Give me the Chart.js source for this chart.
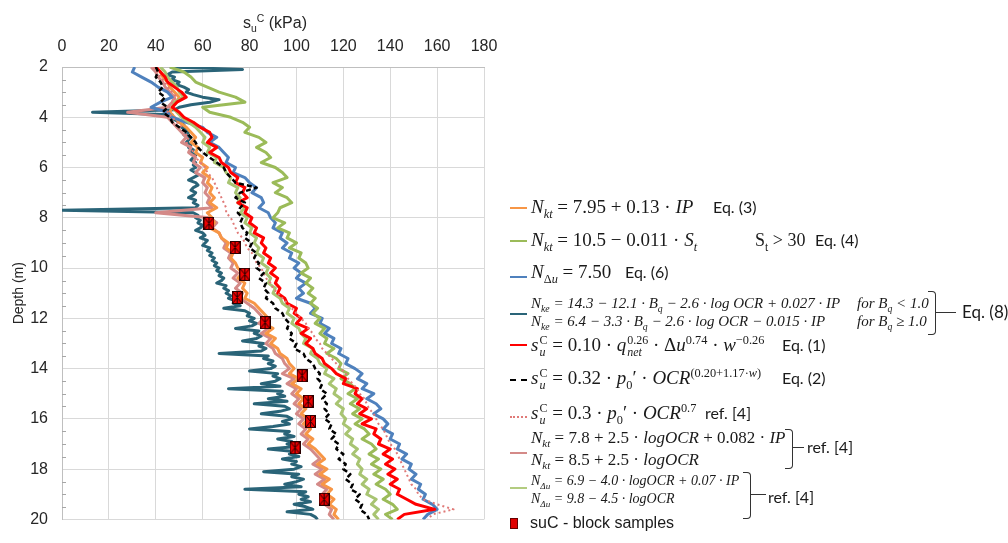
<!DOCTYPE html>
<html><head><meta charset="utf-8">
<script src="https://cdn.jsdelivr.net/npm/chart.js@4.4.1/dist/chart.umd.min.js"></script>
<style>
html,body{margin:0;padding:0;background:#fff;}
#wrap{position:relative;width:1008px;height:543px;overflow:hidden;background:#fff;}
#c{position:absolute;left:0;top:0;}
.t{position:absolute;white-space:nowrap;color:#1a1a1a;}
.m{font-family:'Liberation Serif','DejaVu Serif',serif;font-size:19px;line-height:22px;}
.s{font-family:'Liberation Serif','DejaVu Serif',serif;font-style:italic;font-size:14px;line-height:16px;}
.e{font-family:Lato,'Open Sans',sans-serif;font-size:16px;line-height:20px;}
sub,sup{font-size:0.65em;line-height:0;}
.ss{display:inline-block;vertical-align:-5px;line-height:12px;font-size:12px;margin-left:1px;}
.ss>span{display:block;}
.sw{position:absolute;height:0;width:17px;left:510px;}
.br{position:absolute;border:1.5px solid #333;border-left:none;border-radius:0 4px 4px 0;}
.dash{position:absolute;height:0;border-top:1.5px solid #333;}
</style>
</head><body>
<div id="wrap">
<canvas id="c" width="514" height="543"></canvas>
<div class="t" style="left:243px;top:13px;font-family:'Liberation Sans',Arial,sans-serif;font-size:16px;line-height:20px;color:#262626">s<sub>u</sub><sup>C</sup> (kPa)</div>

<!-- legend -->
<div class="sw" style="top:207px;border-top:2px solid #F79646"></div>
<div class="t m" style="left:531px;top:196px"><i>N</i><sub><i>kt</i></sub> = 7.95 + 0.13 · <i>IP</i></div>
<div class="t e" style="left:713px;top:197px">Eq. (3)</div>

<div class="sw" style="top:240px;border-top:2px solid #9BBB59"></div>
<div class="t m" style="left:531px;top:229px"><i>N</i><sub><i>kt</i></sub> = 10.5 − 0.011 · <i>S</i><sub><i>t</i></sub></div>
<div class="t m" style="left:755px;top:229px;font-size:18px">S<sub>t</sub> &gt; 30</div>
<div class="t e" style="left:815px;top:230px">Eq. (4)</div>

<div class="sw" style="top:276px;border-top:2px solid #4F81BD"></div>
<div class="t m" style="left:531px;top:261px"><i>N</i><sub>Δ<i>u</i></sub> = 7.50</div>
<div class="t e" style="left:625px;top:262px">Eq. (6)</div>

<div class="sw" style="top:313px;border-top:2px solid #2A6478"></div>
<div class="t s" style="left:531px;top:295px;font-size:15px">N<sub>ke</sub> = 14.3 − 12.1 · B<sub>q</sub> − 2.6 · log OCR + 0.027 · IP</div>
<div class="t s" style="left:857px;top:295px;font-size:15px">for B<sub>q</sub> &lt; 1.0</div>
<div class="t s" style="left:531px;top:313px;font-size:15px">N<sub>ke</sub> = 6.4 − 3.3 · B<sub>q</sub> − 2.6 · log OCR − 0.015 · IP</div>
<div class="t s" style="left:857px;top:313px;font-size:15px">for B<sub>q</sub> ≥ 1.0</div>
<div class="br" style="left:928px;top:291px;width:7px;height:42px"></div>
<div class="dash" style="left:936px;top:312px;width:20px"></div>
<div class="t e" style="left:962px;top:302px;font-size:17px">Eq. (8)</div>

<div class="sw" style="top:344px;border-top:2px solid #FF0000"></div>
<div class="t m" style="left:531px;top:334px"><i>s</i><span class="ss"><span>C</span><span><i>u</i></span></span> = 0.10 · <i>q</i><span class="ss"><span>0.26</span><span><i>net</i></span></span> · Δ<i>u</i><sup>0.74</sup> · <i>w</i><sup>−0.26</sup></div>
<div class="t e" style="left:782px;top:335px">Eq. (1)</div>

<div class="sw" style="top:379px;border-top:2px dashed #000"></div>
<div class="t m" style="left:531px;top:367px"><i>s</i><span class="ss"><span>C</span><span><i>u</i></span></span> = 0.32 · <i>p</i><sub>0</sub>′ · <i>OCR</i><sup>(0.20+1.17·<i>w</i>)</sup></div>
<div class="t e" style="left:782px;top:368px">Eq. (2)</div>

<div class="sw" style="top:416px;border-top:2px dotted #E07A78"></div>
<div class="t m" style="left:531px;top:402px"><i>s</i><span class="ss"><span>C</span><span><i>u</i></span></span> = 0.3 · <i>p</i><sub>0</sub>′ · <i>OCR</i><sup>0.7</sup></div>
<div class="t e" style="left:705px;top:403px">ref. [4]</div>

<div class="sw" style="top:452px;border-top:2px solid #D48A88"></div>
<div class="t m" style="left:531px;top:427px;font-size:17px"><i>N</i><sub><i>kt</i></sub> = 7.8 + 2.5 · <i>logOCR</i> + 0.082 · <i>IP</i></div>
<div class="t m" style="left:531px;top:449px;font-size:17px"><i>N</i><sub><i>kt</i></sub> = 8.5 + 2.5 · <i>logOCR</i></div>
<div class="br" style="left:785px;top:429px;width:7px;height:38px"></div>
<div class="dash" style="left:793px;top:447px;width:11px"></div>
<div class="t e" style="left:807px;top:437px">ref. [4]</div>

<div class="sw" style="top:487px;border-top:2px solid #B3CC80"></div>
<div class="t s" style="left:531px;top:473px">N<sub>Δu</sub> = 6.9 − 4.0 · logOCR + 0.07 · IP</div>
<div class="t s" style="left:531px;top:491px">N<sub>Δu</sub> = 9.8 − 4.5 · logOCR</div>
<div class="br" style="left:743px;top:472px;width:7px;height:45px"></div>
<div class="dash" style="left:751px;top:494px;width:15px"></div>
<div class="t e" style="left:768px;top:487px">ref. [4]</div>

<div style="position:absolute;left:510px;top:518px;width:6px;height:9px;background:#E00000;border:1px solid #600"></div>
<div class="t" style="left:530px;top:513px;font-family:'Liberation Sans',Arial,sans-serif;font-size:16px;line-height:20px">suC - block samples</div>
</div>

<script>
// ---------- data ----------
// CPT depth grids (m)
const depthCPT = [];      // 0.2 m grid, 2.0 .. 20.0
for (let i = 0; i <= 90; i++) depthCPT.push(Math.round((2 + i * 0.2) * 10) / 10);
const depthCPTfine = [];  // 0.1 m grid, 2.0 .. 20.0
for (let i = 0; i <= 180; i++) depthCPTfine.push(Math.round((2 + i * 0.1) * 10) / 10);

// Nkt = 7.95 + 0.13 IP  Eq.(3)
const suNktIP = [40,42,43,45,46,48,50,49,47,46,
 48,50,53,55,57,55,58,57,60,59,
 62,60,63,62,64,63,65,63,66,62,
 64,65,63,67,68,71,70,73,72,74,
 75,77,75,78,77,79,78,82,84,86,
 88,86,90,87,91,89,92,93,96,97,
 99,97,101,98,102,100,103,101,104,102,
 105,103,106,104,107,105,108,110,112,109,
 113,110,114,111,115,113,116,114,117,116,
 118];
// Nkt = 10.5 - 0.011 St  Eq.(4)
const suNktSt = [46,52,55,57,62,67,74,78,60,63,
 72,77,80,78,84,87,83,87,89,85,
 91,94,96,90,94,91,96,98,93,92,
 90,95,92,97,96,100,97,102,101,104,
 105,102,106,104,107,105,108,106,109,107,
 110,108,112,110,113,112,116,113,117,119,
 118,122,119,123,125,122,126,123,127,124,
 128,125,129,131,128,132,134,131,135,132,
 136,133,137,134,138,140,137,141,143,138,
 141];
// NΔu = 7.50  Eq.(6)
const suNdu = [31,30,34,38,41,45,47,42,38,45,
 47,53,60,62,66,63,67,69,71,70,
 74,73,78,80,83,81,85,86,84,88,
 89,91,90,94,93,96,94,98,97,101,
 99,102,100,104,101,103,100,106,108,106,
 111,110,114,112,116,115,119,118,122,121,
 125,128,126,130,128,133,130,134,136,133,
 137,139,137,141,140,144,143,147,145,149,
 148,151,149,153,152,155,154,158,160,156,
 154];
// Nke  Eq.(8)  (0.1 m grid)
const suNke = [46,77,47,45,48,47,50,49,52,54,
 53,56,60,67,63,55,50,48,13,47,
 46,48,50,52,51,53,54,52,55,54,
 53,55,54,56,55,57,56,55,57,56,
 57,55,57,58,56,54,57,58,56,55,
 57,56,54,57,56,58,57,0,56,58,
 57,59,58,60,59,57,60,61,59,62,
 61,60,63,62,64,63,65,64,66,65,
 67,66,68,67,69,68,66,70,69,71,
 70,72,71,74,73,76,69,78,80,79,
 82,80,83,81,74,84,82,85,83,77,
 86,84,87,85,67,88,86,90,88,91,
 89,80,92,90,93,91,85,93,71,94,
 92,95,88,96,82,95,97,93,85,96,
 98,94,97,90,80,97,95,99,92,98,
 96,100,88,99,97,101,94,100,98,102,
 99,86,101,98,103,100,95,102,78,104,
 101,105,102,106,99,104,107,96,106,108,
 109];
// suC = 0.10 qnet^0.26 Δu^0.74 w^-0.26  Eq.(1)
const suEq1 = [40,42,44,45,48,51,53,49,47,50,
 52,56,59,63,64,62,66,63,67,68,
 71,72,75,74,78,77,79,75,79,78,
 81,80,83,82,86,85,87,86,89,88,
 91,89,92,91,93,92,95,96,100,99,
 102,100,105,102,106,104,107,108,111,112,
 115,117,121,120,126,125,128,126,130,127,
 132,128,134,133,136,135,140,137,141,138,
 142,139,143,140,144,143,147,151,159,146,
 143];
// suC = 0.32 p0' OCR^(0.20+1.17w)  Eq.(2)
const suEq2 = [40,41,40,42,43,41,44,42,45,43,
 46,47,50,53,55,57,58,60,63,66,
 69,70,72,74,83,76,74,78,76,75,
 77,76,77,79,78,81,80,83,82,84,
 83,86,84,87,86,88,87,90,91,94,
 95,97,96,98,97,100,99,103,104,107,
 108,110,109,111,110,113,111,113,112,114,
 112,115,114,117,115,118,117,120,118,121,
 120,123,121,124,123,127,125,128,127,130,
 131];
// suC = 0.3 p0' OCR^0.7  ref.[4]
const suRef4 = [39,41,42,44,45,47,49,47,46,45,
 47,49,51,52,54,53,55,56,57,59,
 61,62,64,65,66,67,68,69,70,70,
 72,73,74,75,77,78,79,81,82,83,
 85,86,87,89,90,92,94,96,98,100,
 102,104,105,107,108,110,111,113,115,117,
 119,121,122,124,126,127,129,130,131,133,
 134,135,137,138,139,140,142,143,144,145,
 146,147,148,149,151,152,154,160,167,158,
 156];
// Nkt = f(logOCR, IP)  ref.[4]
const suNktOCR = [38,40,41,43,44,46,48,47,45,28,
 45,47,49,51,53,51,55,54,57,56,
 59,57,61,60,62,61,63,62,64,40,
 63,66,64,67,68,70,69,72,71,73,
 72,75,73,76,74,77,76,79,82,84,
 86,84,88,85,89,87,90,91,94,95,
 97,94,99,96,100,98,101,99,102,100,
 103,101,104,102,105,103,106,108,110,107,
 111,108,112,109,113,111,114,112,115,114,
 116];
// NΔu = f(logOCR, IP)  ref.[4]
const suNduOCR = [42,44,45,47,49,50,52,48,47,49,
 51,54,57,59,61,60,63,62,66,65,
 69,70,72,71,75,74,76,75,78,76,
 79,78,81,80,83,82,84,83,86,85,
 88,87,89,88,91,90,93,94,97,96,
 99,98,101,102,104,103,107,106,109,110,
 113,112,116,114,117,116,119,117,120,119,
 121,120,123,121,124,123,126,124,127,126,
 128,127,130,128,131,130,134,132,135,133,
 135];
// block samples
const blockSu    = [62.7, 73.8, 78.0, 74.7, 86.6, 102.4, 105.0, 106.0, 99.4, 111.8];
const blockDepth = [8.22, 9.18, 10.25, 11.17, 12.17, 14.28, 15.3, 16.1, 17.15, 19.2];

const xTicksMax = 180, xStep = 20, depthMin = 2, depthMax = 20, depthStep = 2, depthMinor = 0.5;

// ---------- chart ----------
const pts = (vals, depths) => vals.map((v, i) => ({x: v, y: depths[i]}));

function blockMarker(w, h) {
  const c = document.createElement('canvas'); c.width = w; c.height = h;
  const g = c.getContext('2d');
  g.fillStyle = '#EE0000'; g.fillRect(0, 0, w, h);
  g.strokeStyle = '#2a0000'; g.lineWidth = 1;
  g.strokeRect(0.5, 0.5, w - 1, h - 1);
  g.beginPath();
  g.moveTo(1, 1); g.lineTo(w - 1, h - 1);
  g.moveTo(w - 1, 1); g.lineTo(1, h - 1);
  g.moveTo(w / 2, 1); g.lineTo(w / 2, h - 1);
  g.stroke();
  return c;
}

const line = (label, vals, depths, color, order, extra) => Object.assign({
  label, data: pts(vals, depths), showLine: true, borderColor: color, backgroundColor: color,
  borderWidth: 3, pointRadius: 0, borderJoinStyle: 'round', order
}, extra || {});

const minorTicks = {
  id: 'minorTicks',
  beforeDatasetsDraw(chart) {
    const y = chart.scales.y, g = chart.ctx, left = chart.chartArea.left;
    g.save(); g.strokeStyle = '#A6A6A6'; g.lineWidth = 1;
    for (let v = depthMin + depthMinor; v < depthMax; v += depthMinor) {
      if (Math.abs(v / depthStep - Math.round(v / depthStep)) < 1e-6) continue;
      const py = Math.round(y.getPixelForValue(v)) + 0.5;
      g.beginPath(); g.moveTo(left, py); g.lineTo(left + 4, py); g.stroke();
    }
    g.restore();
  }
};

new Chart(document.getElementById('c'), {
  type: 'scatter',
  data: {
    datasets: [
      {label: 'suC - block samples', data: pts(blockSu, blockDepth), pointStyle: blockMarker(11, 13),
       pointRadius: 7, showLine: false, order: 0},
      line('Eq. (2)', suEq2, depthCPT, '#000000', 1, {borderDash: [5, 3], borderWidth: 2.5}),
      line('ref. [4] dotted', suRef4, depthCPT, '#E07A78', 2, {borderDash: [2, 3], borderWidth: 2}),
      line('Eq. (1)', suEq1, depthCPT, '#FF0000', 3),
      line('NΔu ref. [4]', suNduOCR, depthCPT, '#A8C472', 4),
      line('Eq. (4)', suNktSt, depthCPT, '#9BBB59', 5),
      line('Eq. (6)', suNdu, depthCPT, '#4F81BD', 6),
      line('Eq. (3)', suNktIP, depthCPT, '#F79646', 7),
      line('Nkt ref. [4]', suNktOCR, depthCPT, '#D48A88', 8),
      line('Eq. (8)', suNke, depthCPTfine, '#2A6478', 9)
    ]
  },
  options: {
    responsive: false, animation: false, devicePixelRatio: 1,
    layout: {padding: {left: 0, right: 30, top: 0, bottom: 7}},
    plugins: {legend: {display: false}, tooltip: {enabled: false}, title: {display: false}},
    scales: {
      x: {
        type: 'linear', position: 'top', min: 0, max: xTicksMax,
        ticks: {stepSize: xStep, color: '#262626', padding: 11,
                font: {family: "'Liberation Sans', Arial, sans-serif", size: 16}},
        grid: {color: '#D9D9D9', drawTicks: false},
        border: {color: '#BFBFBF'},
        afterFit(s) { s.height = 67; }
      },
      y: {
        type: 'linear', reverse: true, min: depthMin, max: depthMax,
        ticks: {stepSize: depthStep, color: '#262626', padding: 14,
                font: {family: "'Liberation Sans', Arial, sans-serif", size: 16}},
        grid: {color: '#D9D9D9', drawTicks: false},
        border: {color: '#BFBFBF'},
        title: {display: true, text: 'Depth (m)', color: '#262626', padding: {top: 11, bottom: 0},
                font: {family: "'Liberation Sans', Arial, sans-serif", size: 14}},
        afterFit(s) { s.width = 62; }
      }
    }
  },
  plugins: [minorTicks]
});
</script>
</body></html>
